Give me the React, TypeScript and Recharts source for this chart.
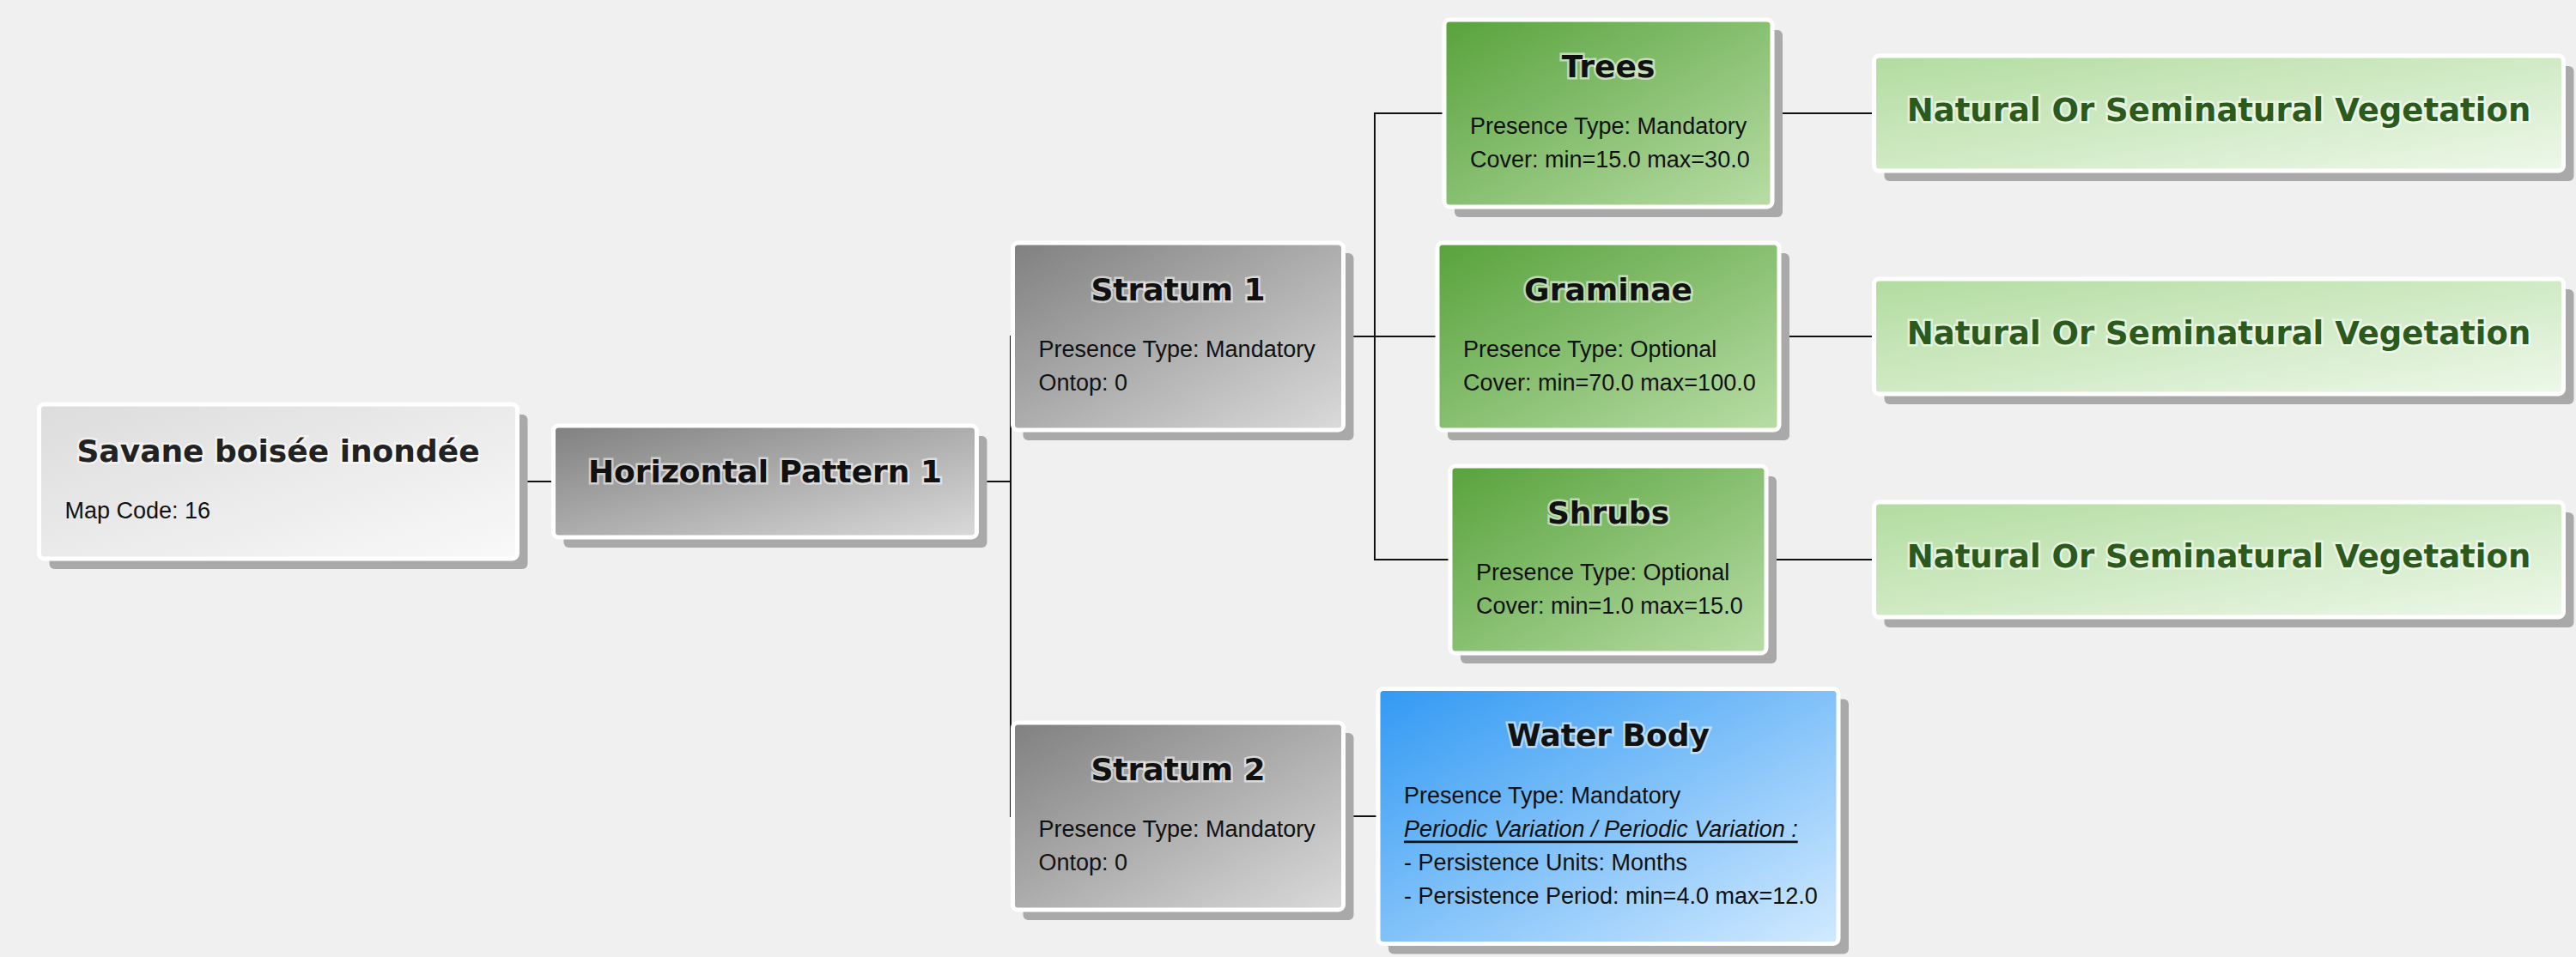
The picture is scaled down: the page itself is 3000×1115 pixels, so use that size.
import React from 'react';
import { ScatterChart, Scatter, XAxis, YAxis } from 'recharts';

// node data (centre of each box, in the 3000 x 1115 page space)
const nodeIds = ['root', 'hp', 's1', 's2', 'trees', 'gram', 'shrubs', 'water', 'v1', 'v2', 'v3'];
const nodeTitles = [
    'Savane boisée inondée', 'Horizontal Pattern 1', 'Stratum 1', 'Stratum 2', 'Trees', 'Graminae', 'Shrubs',
    'Water Body', 'Natural Or Seminatural Vegetation', 'Natural Or Seminatural Vegetation', 'Natural Or Seminatural Vegetation',
];
const nodeX = [324, 891, 1372, 1372, 1873, 1873, 1873, 1873, 2584, 2584, 2584];
const nodeY = [561, 561, 392, 951, 132, 392, 652, 951, 132, 392, 652];
const nodeParents = ['', 'root', 'hp', 'hp', 's1', 's1', 's1', 's2', 'trees', 'gram', 'shrubs'];
const nodeLines: string[][] = [
    ['Map Code: 16'],
    [],
    ['Presence Type: Mandatory', 'Ontop: 0'],
    ['Presence Type: Mandatory', 'Ontop: 0'],
    ['Presence Type: Mandatory', 'Cover: min=15.0 max=30.0'],
    ['Presence Type: Optional', 'Cover: min=70.0 max=100.0'],
    ['Presence Type: Optional', 'Cover: min=1.0 max=15.0'],
    ['Presence Type: Mandatory', 'Periodic Variation / Periodic Variation :', '- Persistence Units: Months', '- Persistence Period: min=4.0 max=12.0'],
    [], [], [],
];
const nodeKinds = ['light', 'grey', 'grey', 'grey', 'green', 'green', 'green', 'blue', 'pale', 'pale', 'pale'];

// box sizes and styles
const boxSize: Record<string, [number, number]> = {
    root: [557, 180], hp: [493, 130], s1: [385, 218], s2: [385, 218],
    trees: [382, 218], gram: [398, 218], shrubs: [368, 218], water: [536, 297],
    v1: [803, 134], v2: [803, 134], v3: [803, 134],
};
const kindStyle: Record<string, { from: string; to: string; title: string; size: number }> = {
    light: { from: '#dcdcdc', to: '#f9f9f9', title: '#222', size: 36 },
    grey: { from: '#808080', to: '#dadada', title: '#111', size: 36 },
    green: { from: '#58a23c', to: '#b8dda6', title: '#111', size: 36 },
    blue: { from: '#3199f3', to: '#d2eaff', title: '#111', size: 36 },
    pale: { from: '#b2dc9f', to: '#eef8ea', title: '#2c5a1c', size: 37 },
};
const busX: Record<string, number> = { hp: 1177, s1: 1601 };

const data = nodeIds.map((id, i) => ({
    id, x: nodeX[i], y: nodeY[i], title: nodeTitles[i], lines: nodeLines[i], kind: nodeKinds[i], parent: nodeParents[i],
}));
const links = data.filter(d => d.parent).map(d => {
    const p = data.find(q => q.id === d.parent)!;
    return { ...d, px: p.x, py: p.y, pid: p.id };
});

// axes map 1:1 onto pixels, so data offsets are pixel offsets
const LinkShape = (props: any) => {
    const { cx, cy, payload } = props;
    const pw = boxSize[payload.pid][0];
    const cw = boxSize[payload.id][0];
    const x0 = cx + (payload.px - payload.x) + pw / 2;
    const y0 = cy + (payload.py - payload.y);
    const x1 = cx - cw / 2;
    const bx = busX[payload.pid] ?? (x0 + x1) / 2;
    return <path d={`M${x0},${y0} H${bx} V${cy} H${x1}`} fill="none" stroke="#111" strokeWidth={2} />;
};

const NodeShape = (props: any) => {
    const { cx, cy, payload } = props;
    const [w, h] = boxSize[payload.id];
    const st = kindStyle[payload.kind];
    const left = cx - w / 2;
    const top = cy - h / 2;
    const gid = `g-${payload.id}`;
    const hasLines = payload.lines.length > 0;
    const titleY = hasLines ? top + 54 : payload.kind === 'grey' ? cy - 12 : cy - 4;
    return (
        <g>
            <defs>
                <linearGradient id={gid} x1="0" y1="0" x2="1" y2="1">
                    <stop offset="0%" stopColor={st.from} />
                    <stop offset="100%" stopColor={st.to} />
                </linearGradient>
            </defs>
            <rect x={left + 12} y={top + 12} width={w} height={h} rx={6} fill="#a9a9a9" />
            <rect x={left} y={top} width={w} height={h} rx={6} fill={`url(#${gid})`} stroke="#fff" strokeWidth={5} />
            <text x={cx} y={titleY} textAnchor="middle" dominantBaseline="central" fontFamily="DejaVu Sans" fontWeight="bold"
                fontSize={st.size} fill={st.title} stroke="#fff" strokeOpacity={0.55} strokeWidth={5} paintOrder="stroke">
                {payload.title}
            </text>
            {payload.lines.map((l: string, i: number) => {
                const italic = payload.id === 'water' && i === 1;
                return (
                    <text key={i} x={left + 30} y={top + 124 + i * 39} dominantBaseline="central" fontFamily="Liberation Sans"
                        fontSize={27} fill="#111" fontStyle={italic ? 'italic' : 'normal'} textDecoration={italic ? 'underline' : 'none'}>
                        {l}
                    </text>
                );
            })}
        </g>
    );
};

const App: React.FC = () => (
    <div style={{ position: 'absolute', left: 0, top: 0, width: 3000, height: 1115, background: '#f0f0f0' }}>
        <ScatterChart width={3000} height={1115} margin={{ top: 0, right: 0, bottom: 0, left: 0 }}>
            <XAxis type="number" dataKey="x" domain={[0, 3000]} hide />
            <YAxis type="number" dataKey="y" domain={[0, 1115]} reversed hide />
            <Scatter data={links} shape={<LinkShape />} isAnimationActive={false} />
            <Scatter data={data} shape={<NodeShape />} isAnimationActive={false} />
        </ScatterChart>
    </div>
);

export default App;
